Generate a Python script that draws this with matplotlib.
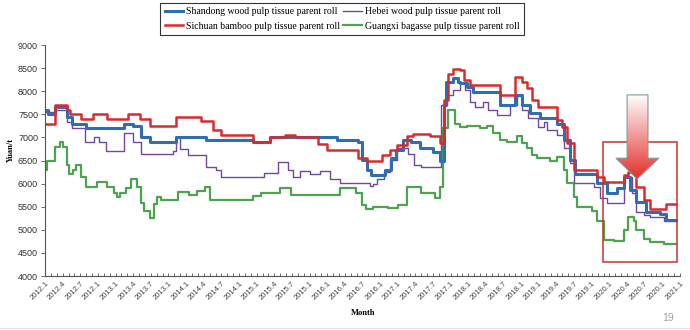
import numpy as np
import matplotlib
matplotlib.use('Agg')
import matplotlib.pyplot as plt
from matplotlib.patches import Polygon, Rectangle
from matplotlib.ticker import MultipleLocator

# months counted from 2012.1, price in yuan per tonne (step changes)
sd_month = [0, 0.5, 1.7, 3.7, 4.6, 6.9, 13.5, 15, 16.4, 17.9,
            22.3, 27.4, 35.4, 38.3, 42.2, 49.7, 53.2, 53.9, 54.8, 55.4,
            57.9, 58.8, 59.7, 60.9, 62.3, 63.7, 66, 67.2, 67.8, 68.2,
            69.4, 70.2, 70.6, 71.7, 72.8, 77.4, 79.9, 81.1, 82.5, 84.2,
            87, 88.2, 89.3, 90.1, 93.8, 95.5, 97.2, 98.4, 99.5, 100.6,
            102.3, 104.6, 105.7, 107.4]
sd_price = [7600, 7500, 7650, 7450, 7300, 7200, 7300, 7250, 7000, 6900,
            7000, 6950, 6900, 7000, 7000, 6950, 6900, 6510, 6290, 6190,
            6290, 6550, 6730, 6940, 6900, 6760, 6690, 6500, 7700, 8200,
            8280, 8200, 8180, 8100, 7990, 7700, 7920, 7700, 7520, 7410,
            7300, 6940, 6510, 6200, 6010, 5790, 5900, 6150, 5860, 5610,
            5390, 5350, 5210, 5210]

sc_month = [0, 1.7, 3.7, 4.3, 6.2, 8.2, 10.5, 14.1, 16.2, 17.9,
            22.3, 26.6, 28.6, 30, 35.4, 38.3, 40.8, 42.5, 46.4, 48,
            53.2, 54.7, 57.3, 58.7, 59.9, 61.6, 62.6, 65.5, 67.2, 67.8,
            68.5, 69.4, 70.6, 71.2, 72.3, 77.4, 79.9, 81.1, 81.9, 82.8,
            83.9, 87, 87.9, 88.7, 89.9, 93.8, 95, 98.4, 99.2, 100.6,
            101.8, 102.9, 105.7, 107.4]
sc_price = [7300, 7700, 7600, 7500, 7400, 7500, 7400, 7500, 7400, 7250,
            7450, 7350, 7150, 7050, 6900, 7000, 7050, 7000, 6850, 6720,
            6560, 6500, 6620, 6720, 6830, 7030, 7080, 7030, 6870, 7800,
            8380, 8480, 8450, 8250, 8140, 7920, 8300, 8200, 8060, 7810,
            7650, 7380, 7230, 6870, 6300, 6150, 6040, 6190, 6260, 5930,
            5640, 5440, 5560, 5560]

hb_month = [0, 1.7, 3.7, 4.6, 6.8, 8.3, 9.1, 10.3, 13.5, 15,
            16.4, 21.8, 22.3, 22.9, 24.3, 27.4, 29.1, 30, 37.2, 39.7,
            41.4, 42.2, 43.3, 45, 46.7, 48.4, 50.1, 55.2, 55.8, 56.4,
            57.6, 58.7, 59.9, 61.8, 62.8, 64, 67.4, 68.3, 69.4, 70.6,
            71.4, 72.3, 73.1, 74.5, 75.4, 76.8, 79.1, 80.2, 81.1, 82.2,
            83.9, 84.8, 85.3, 87, 88.2, 89.3, 89.9, 93.3, 94.4, 95.5,
            98.4, 99.8, 100.6, 101.8, 102.9, 105.2, 107.4]
hb_price = [7550, 7600, 7340, 7200, 6900, 7000, 6900, 6700, 7100, 6900,
            6640, 6700, 7000, 6750, 6620, 6370, 6300, 6150, 6220, 6470,
            6300, 6150, 6280, 6200, 6280, 6110, 6010, 5950, 6000, 6100,
            6250, 6510, 6760, 6650, 6400, 6350, 7700, 7920, 8030, 8170,
            8030, 7770, 7660, 7770, 7590, 7490, 7700, 7900, 7600, 7420,
            7230, 7340, 7160, 7050, 6760, 6440, 6010, 5930, 5680, 5570,
            6150, 5800, 5390, 5320, 5280, 5180, 5180]

gx_month = [0, 0.3, 1.7, 2.5, 3.1, 3.7, 4.0, 4.8, 5.3, 6.2,
            7.0, 8.8, 10.5, 11.7, 12.3, 12.8, 13.7, 14.6, 15.7, 16.3,
            16.9, 17.9, 18.6, 19.0, 19.8, 22.7, 24.5, 25.9, 27.2, 28.1,
            35.4, 36.8, 39.9, 41.9, 50.1, 52.9, 54.0, 54.6, 55.8, 58.3,
            60.1, 61.5, 64.0, 66.3, 67.2, 67.7, 68.6, 69.8, 70.6, 71.7,
            74.0, 75.1, 76.2, 77.4, 78.5, 80.2, 81.1, 81.9, 82.8, 83.6,
            85.9, 87.0, 88.2, 88.7, 89.9, 90.4, 93.0, 93.8, 95.0, 96.7,
            98.4, 99.2, 100.1, 100.6, 101.8, 102.9, 105.2, 107.4]
gx_price = [6300, 6500, 6800, 6900, 6800, 6400, 6200, 6300, 6400, 6150,
            5930, 6040, 5930, 5800, 5700, 5800, 5900, 6100, 5930, 5570,
            5400, 5260, 5550, 5720, 5640, 5820, 5750, 5830, 5930, 5650,
            5730, 5800, 5900, 5750, 5900, 5800, 5540, 5440, 5500, 5480,
            5540, 5930, 5800, 5680, 5930, 7200, 7590, 7290, 7230, 7250,
            7200, 7250, 7100, 6940, 6900, 7030, 6870, 6760, 6620, 6550,
            6480, 6580, 6300, 6010, 5720, 5500, 5400, 5180, 4780, 4760,
            5000, 5280, 5180, 5000, 4810, 4740, 4700, 4700]

tick_labels = ["2012.1", "2012.4", "2012.7", "2012.1", "2013.1", "2013.4", "2013.7", "2013.1",
               "2014.1", "2014.4", "2014.7", "2014.1", "2015.1", "2015.4", "2015.7", "2015.1",
               "2016.1", "2016.4", "2016.7", "2016.1", "2017.1", "2017.4", "2017.7", "2017.1",
               "2018.1", "2018.4", "2018.7", "2018.1", "2019.1", "2019.4", "2019.7", "2019.1",
               "2020.1", "2020.4", "2020.7", "2020.1", "2021.1"]

series = [
    (gx_month, gx_price, '#4ea34e', 1.6, 'Guangxi bagasse pulp tissue parent roll'),
    (hb_month, hb_price, '#7048a0', 1.0, 'Hebei wood pulp tissue parent roll'),
    (sd_month, sd_price, '#2f6db5', 2.2, 'Shandong wood pulp tissue parent roll'),
    (sc_month, sc_price, '#dc2a2a', 1.8, 'Sichuan bamboo pulp tissue parent roll'),
]

fig = plt.figure(figsize=(6.9, 3.3), dpi=100)
ax = fig.add_axes([45 / 690, 54 / 330, 635 / 690, 231 / 330])

lines = {}
for months, prices, color, lw, label in series:
    ln, = ax.plot(months, prices, drawstyle='steps-post', color=color, lw=lw, label=label)
    lines[label] = ln

# highlighted window and down arrow
box = Rectangle((94.9, 4300), 12.6, 2600, fill=False, edgecolor='#c8322c', lw=1.1, zorder=5)
ax.add_patch(box)

arrow_xy = [(99.0, 7920), (102.55, 7920), (102.55, 6550), (104.4, 6550),
            (100.7, 6100), (97.1, 6550), (99.0, 6550)]
arrow = Polygon(arrow_xy, closed=True, facecolor='none', edgecolor='#7f9c98', lw=0.8, zorder=7)
ax.add_patch(arrow)
grad = np.linspace(0, 1, 200)[:, None]
white = np.array([1.0, 1.0, 1.0])
red = np.array([0.89, 0.18, 0.16])
rgb = white[None, None, :] * (1 - grad[..., None]) + red[None, None, :] * grad[..., None]
img = ax.imshow(rgb, extent=(97.1, 104.4, 6100, 7920), origin='upper', aspect='auto', zorder=6)
img.set_clip_path(arrow)

ax.set_xlim(0, 108)
ax.set_ylim(4000, 9000)

ax.xaxis.set_minor_locator(MultipleLocator(1))
ax.set_xticks(np.arange(0, 109, 3))
ax.set_xticklabels(tick_labels, rotation=45, ha='right', rotation_mode='anchor',
                   fontsize=5.5, color='#444444', family='Liberation Sans')
ax.tick_params(axis='x', which='both', direction='in', length=2.5, width=0.6, colors='#555555', pad=3)
ax.tick_params(axis='x', labelcolor='#444444')

ax.yaxis.set_major_locator(MultipleLocator(500))
ax.tick_params(axis='y', direction='out', length=3, width=0.6, colors='#555555', labelsize=6.5, pad=2)
for t in ax.get_yticklabels():
    t.set_family('Liberation Sans')
    t.set_color('#333333')

for side in ('top', 'right'):
    ax.spines[side].set_visible(False)
for side in ('left', 'bottom'):
    ax.spines[side].set_color('#555555')
    ax.spines[side].set_linewidth(0.8)

fig.text(11 / 690, 1 - 150 / 330, 'Yuan/t', rotation=90, ha='center', va='center',
         fontsize=6, fontweight='bold', family='Liberation Serif')
fig.text(363 / 690, 1 - 313 / 330, 'Month', ha='center', va='center',
         fontsize=6, fontweight='bold', family='Liberation Serif')
fig.text(668 / 690, 1 - 318 / 330, '19', ha='center', va='center', fontsize=7.5,
         color='#a0a0a0', family='Liberation Sans')
fig.add_artist(plt.Line2D([0, 1], [2 / 330, 2 / 330], color='#e4e4e4', lw=0.8))

order = ['Shandong wood pulp tissue parent roll', 'Sichuan bamboo pulp tissue parent roll',
         'Hebei wood pulp tissue parent roll', 'Guangxi bagasse pulp tissue parent roll']
leg = fig.legend([lines[k] for k in order], order, loc='upper center',
                 bbox_to_anchor=(342 / 690, 1 - 3 / 330), ncol=2, frameon=True, fancybox=False,
                 prop={'family': 'Liberation Serif', 'size': 7}, handlelength=1.9,
                 handletextpad=0.3, columnspacing=0.3, borderpad=0.45, labelspacing=0.55,
                 borderaxespad=0)
leg.get_frame().set_edgecolor('#000000')
leg.get_frame().set_linewidth(0.8)

fig.savefig('out.png', dpi=100)
